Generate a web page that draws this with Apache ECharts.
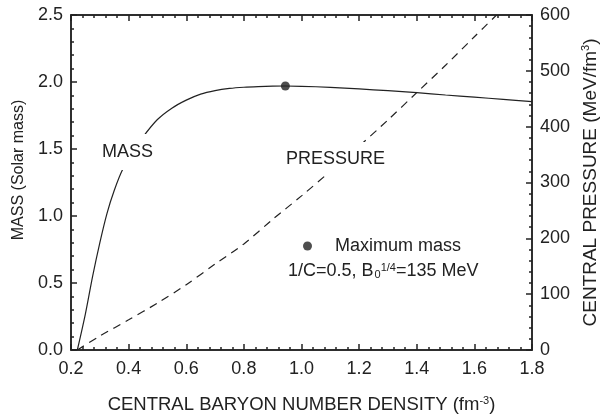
<!DOCTYPE html>
<html>
<head>
<meta charset="utf-8">
<script src="https://cdn.jsdelivr.net/npm/echarts@6/dist/echarts.min.js"></script>
<style>
  html, body { margin: 0; padding: 0; background: #fff; }
  #chart { width: 603px; height: 416px; }
</style>
</head>
<body>
<div id="chart"></div>
<script>
// Maximum-mass sequence: stellar mass vs. central baryon number density
const massDensity = [0.222, 0.25, 0.275, 0.3, 0.325, 0.35, 0.38, 0.42, 0.45, 0.5, 0.55, 0.6, 0.65, 0.7, 0.75, 0.8, 0.85, 0.9, 0.944, 1.0, 1.1, 1.2, 1.3, 1.4, 1.5, 1.6, 1.7, 1.8];
const massValues  = [0, 0.27, 0.55, 0.8, 1.02, 1.19, 1.35, 1.49, 1.59, 1.72, 1.805, 1.865, 1.91, 1.936, 1.952, 1.961, 1.966, 1.969, 1.97, 1.968, 1.96, 1.948, 1.935, 1.92, 1.903, 1.887, 1.87, 1.853];

// Central pressure (MeV/fm^3) vs. central baryon number density
const pressureDensity = [0.222, 0.3, 0.4, 0.5, 0.6, 0.7, 0.8, 0.9, 1.0, 1.1, 1.2, 1.3, 1.4, 1.5, 1.6, 1.677];
const pressureValues  = [0, 25, 54, 84, 117, 154, 190, 234, 276, 320, 365, 412, 461, 510, 561, 600];

// Point of maximum mass
const maxMassPoint = [0.944, 1.97];

// Axis ranges: [min, max, major step]
const xRange = [0.2, 1.8, 0.2];
const massRange = [0, 2.5, 0.5];
const pressureRange = [0, 600, 100];

const FONT = '"Liberation Sans", Arial, Helvetica, sans-serif';
const INK = '#222';
const SOLID = [1000, 0];

const zip = (xs, ys) => xs.map((x, i) => [x, ys[i]]);

// Framed axis: solid line, inward major ticks and five-part minor ticks
function frameAxis(range, extra) {
  return Object.assign({
    type: 'value',
    z: 10,
    min: range[0], max: range[1], interval: range[2],
    axisLine: { show: true, onZero: false, lineStyle: { color: INK, width: 1.5, type: SOLID } },
    axisTick: { show: true, inside: true, length: 6, lineStyle: { color: INK, width: 1.5, type: SOLID } },
    minorTick: { show: true, splitNumber: 5, length: 3, lineStyle: { color: INK, width: 1.5, type: SOLID } },
    splitLine: { show: false },
    minorSplitLine: { show: false }
  }, extra);
}

const chart = echarts.init(document.getElementById('chart'));

chart.setOption({
  animation: false,
  textStyle: { fontFamily: FONT, color: INK },
  grid: {
    left: 71, right: 71, top: 15, bottom: 66,
    outerBoundsMode: 'none', containLabel: false,
    show: true, z: 9, backgroundColor: 'transparent', borderColor: INK, borderWidth: 1.5
  },
  xAxis: [
    frameAxis(xRange, {
      position: 'bottom',
      axisLabel: { fontSize: 18, color: INK, margin: 10, fontFamily: FONT, formatter: v => v.toFixed(1) },
      name: 'CENTRAL BARYON NUMBER DENSITY (fm{sup|-3})',
      nameLocation: 'middle', nameGap: 45,
      nameTextStyle: {
        fontSize: 18.5, color: INK, fontFamily: FONT,
        rich: { sup: { fontSize: 11, verticalAlign: 'top', color: INK, fontFamily: FONT } }
      }
    }),
    frameAxis(xRange, { position: 'top', axisLabel: { show: false } })
  ],
  yAxis: [
    frameAxis(massRange, {
      position: 'left',
      axisLabel: { fontSize: 18, color: INK, margin: 8, fontFamily: FONT, formatter: v => v.toFixed(1) },
      name: 'MASS (Solar mass)',
      nameLocation: 'middle', nameGap: 43, nameRotate: 90,
      nameTextStyle: { fontSize: 16, color: INK, fontFamily: FONT, padding: [0, 0, 0, 25] }
    }),
    frameAxis(pressureRange, {
      position: 'right',
      axisLabel: { fontSize: 18, color: INK, margin: 8, fontFamily: FONT },
      name: 'CENTRAL PRESSURE (MeV/fm{sup|3})',
      nameLocation: 'middle', nameGap: 48, nameRotate: 90,
      nameTextStyle: {
        fontSize: 19, color: INK, fontFamily: FONT,
        rich: { sup: { fontSize: 11, verticalAlign: 'top', color: INK, fontFamily: FONT } }
      }
    })
  ],
  legend: {
    data: ['Maximum mass'],
    left: 303, top: 237, padding: 0,
    icon: 'circle', itemWidth: 9, itemHeight: 9,
    selectedMode: false,
    textStyle: { fontSize: 18, color: INK, fontFamily: FONT, padding: [0, 0, 0, 18] }
  },
  series: [
    {
      name: 'Mass',
      type: 'line',
      xAxisIndex: 0, yAxisIndex: 0,
      data: zip(massDensity, massValues),
      smooth: 0.3,
      showSymbol: false, symbol: 'none',
      lineStyle: { color: INK, width: 1.2 },
      z: 2
    },
    {
      name: 'Pressure',
      type: 'line',
      xAxisIndex: 0, yAxisIndex: 1,
      data: zip(pressureDensity, pressureValues),
      smooth: 0.3,
      showSymbol: false, symbol: 'none',
      lineStyle: { color: INK, width: 1.2, type: [8, 6] },
      z: 2
    },
    {
      name: 'Maximum mass',
      type: 'scatter',
      xAxisIndex: 0, yAxisIndex: 0,
      data: [maxMassPoint],
      symbol: 'circle', symbolSize: 9,
      itemStyle: { color: INK },
      z: 3
    }
  ],
  graphic: [
    {
      type: 'text', x: 101, y: 152, z: 50,
      style: {
        text: 'MASS', font: '18px ' + FONT, fill: INK,
        align: 'left', verticalAlign: 'middle',
        backgroundColor: '#fff', padding: [9, 1, 9, 1]
      }
    },
    {
      type: 'text', x: 284, y: 159, z: 50,
      style: {
        text: 'PRESSURE', font: '18px ' + FONT, fill: INK,
        align: 'left', verticalAlign: 'middle',
        backgroundColor: '#fff', padding: [4, 2, 12, 2]
      }
    },
    {
      type: 'text', x: 288, y: 271, z: 50,
      style: {
        text: '1/C=0.5, B{sub|0}{sup|1/4}=135 MeV',
        font: '18px ' + FONT, fill: INK,
        align: 'left', verticalAlign: 'middle',
        rich: {
          sub: { fontSize: 11, fontFamily: FONT, fill: INK, verticalAlign: 'bottom', padding: [0, 0, 0, 1] },
          sup: { fontSize: 11, fontFamily: FONT, fill: INK, verticalAlign: 'top' }
        }
      }
    }
  ]
});
</script>
</body>
</html>
